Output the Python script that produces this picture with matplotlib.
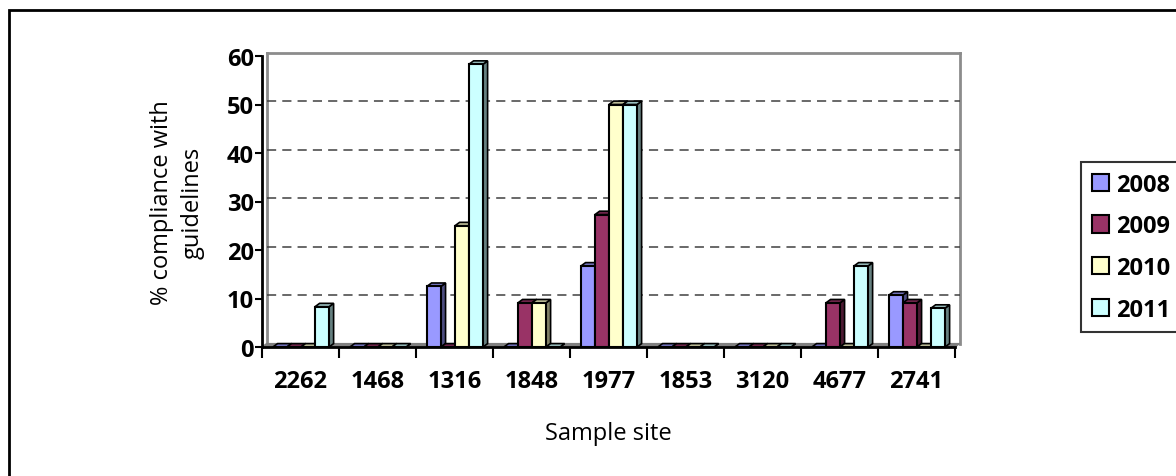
import matplotlib
matplotlib.use('Agg')
import matplotlib.pyplot as plt
from matplotlib.patches import Polygon, Rectangle, Patch
import numpy as np

plt.rcParams['font.family'] = ['Open Sans', 'DejaVu Sans']

sites = ['2262', '1468', '1316', '1848', '1977', '1853', '3120', '4677', '2741']
years = ['2008', '2009', '2010', '2011']
v2008 = [0, 0, 12.5, 0, 16.7, 0, 0, 0, 10.7]
v2009 = [0, 0, 0, 9.1, 27.3, 0, 0, 9.1, 9.1]
v2010 = [0, 0, 25.0, 9.1, 50.0, 0, 0, 0, 0]
v2011 = [8.3, 0, 58.3, 0, 50.0, 0, 0, 16.7, 8.0]
series = [v2008, v2009, v2010, v2011]

fronts = ['#9999FF', '#993366', '#FFFFCC', '#CCFFFF']
sides = ['#4D4D80', '#4D1A33', '#808066', '#668080']
tops = ['#7373BF', '#73264D', '#BFBF99', '#99BFBF']

W, H = 1176, 477
fig = plt.figure(figsize=(W / 100, H / 100), dpi=100)
ax = fig.add_axes([262 / W, 1 - 348 / H, 693 / W, 291 / H])

# outer chart frame (runs past the right and bottom edges)
fig.patches.append(Rectangle((9 / W, -0.1), 1.2, 1 - 11 / H + 0.1,
                             transform=fig.transFigure, fill=False,
                             edgecolor='black', linewidth=2))

ax.set_xlim(-0.5, 8.5)
ax.set_ylim(0, 60)
dx, dy = 0.06, 0.7   # fake 3D depth in data units

x = np.arange(len(sites))
width = 0.182
for i, vals in enumerate(series):
    off = (i - 1.5) * width + 0.006
    bars = ax.bar(x + off, vals, width, color=fronts[i], edgecolor='black',
                  linewidth=1.5, zorder=4 + i, label=years[i])
    for b in bars:
        x0, w, h = b.get_x(), b.get_width(), b.get_height()
        ax.add_patch(Polygon([(x0 + w, 0), (x0 + w + dx, dy),
                              (x0 + w + dx, h + dy), (x0 + w, h)],
                             closed=True, facecolor=sides[i], edgecolor='black',
                             linewidth=1.2, zorder=3.9 + i, clip_on=False))
        ax.add_patch(Polygon([(x0, h), (x0 + dx, h + dy),
                              (x0 + w + dx, h + dy), (x0 + w, h)],
                             closed=True, facecolor=tops[i], edgecolor='black',
                             linewidth=1.2, zorder=3.9 + i, clip_on=False))

# floor and back wall
ax.add_patch(Polygon([(-0.5, 0), (-0.5 + dx, dy), (8.5 + dx, dy), (8.5, 0)],
                     closed=True, facecolor='#808080', edgecolor='#808080',
                     zorder=2, clip_on=False))
wall = dict(color='#8C8C8C', linewidth=2, zorder=1, clip_on=False)
ax.plot([-0.5 + dx, 8.5 + dx], [60 + dy, 60 + dy], **wall)
ax.plot([8.5 + dx, 8.5 + dx], [dy, 60 + dy], **wall)
ax.plot([-0.5 + dx, -0.5 + dx], [dy, 60 + dy], **wall)
for g in range(10, 60, 10):
    ax.plot([-0.5 + dx, 8.5 + dx], [g + dy, g + dy], color='#404040',
            linestyle=(0, (6, 4)), linewidth=1.1, zorder=1.5, clip_on=False)

for s in ['top', 'right']:
    ax.spines[s].set_visible(False)
ax.spines['left'].set_linewidth(2)
ax.spines['bottom'].set_linewidth(2)
ax.spines['left'].set_zorder(10)
ax.spines['bottom'].set_zorder(10)

ax.set_yticks(range(0, 61, 10))
ax.tick_params(axis='y', length=5, width=1.5, labelsize=17, pad=1)
for t in ax.get_yticklabels():
    t.set_fontweight('bold')
ax.set_xticks(x)
ax.set_xticklabels(sites, fontsize=17, fontweight='bold')
ax.set_xticks(np.arange(-0.5, 9, 1), minor=True)
ax.tick_params(axis='x', which='major', length=0, pad=16)
ax.tick_params(axis='x', which='minor', length=8, width=1.5)

ax.set_xlabel('Sample site', fontsize=17, labelpad=20)
ax.set_ylabel('% compliance with\nguidelines', fontsize=17, labelpad=16,
              linespacing=1.35)

handles = [Patch(facecolor=fronts[i], edgecolor='black', linewidth=1.5,
                 label=years[i]) for i in range(4)]
leg = fig.legend(handles=handles, loc='upper left',
                 bbox_to_anchor=(1081 / W, 1 - 163 / H),
                 prop={'size': 17, 'weight': 'bold'}, frameon=True,
                 fancybox=False, edgecolor='black', handlelength=0.75,
                 handleheight=0.75, handletextpad=0.3, labelspacing=0.75,
                 borderpad=0.45, borderaxespad=0)
leg.get_frame().set_linewidth(1.5)

fig.savefig('out.png', dpi=100)
